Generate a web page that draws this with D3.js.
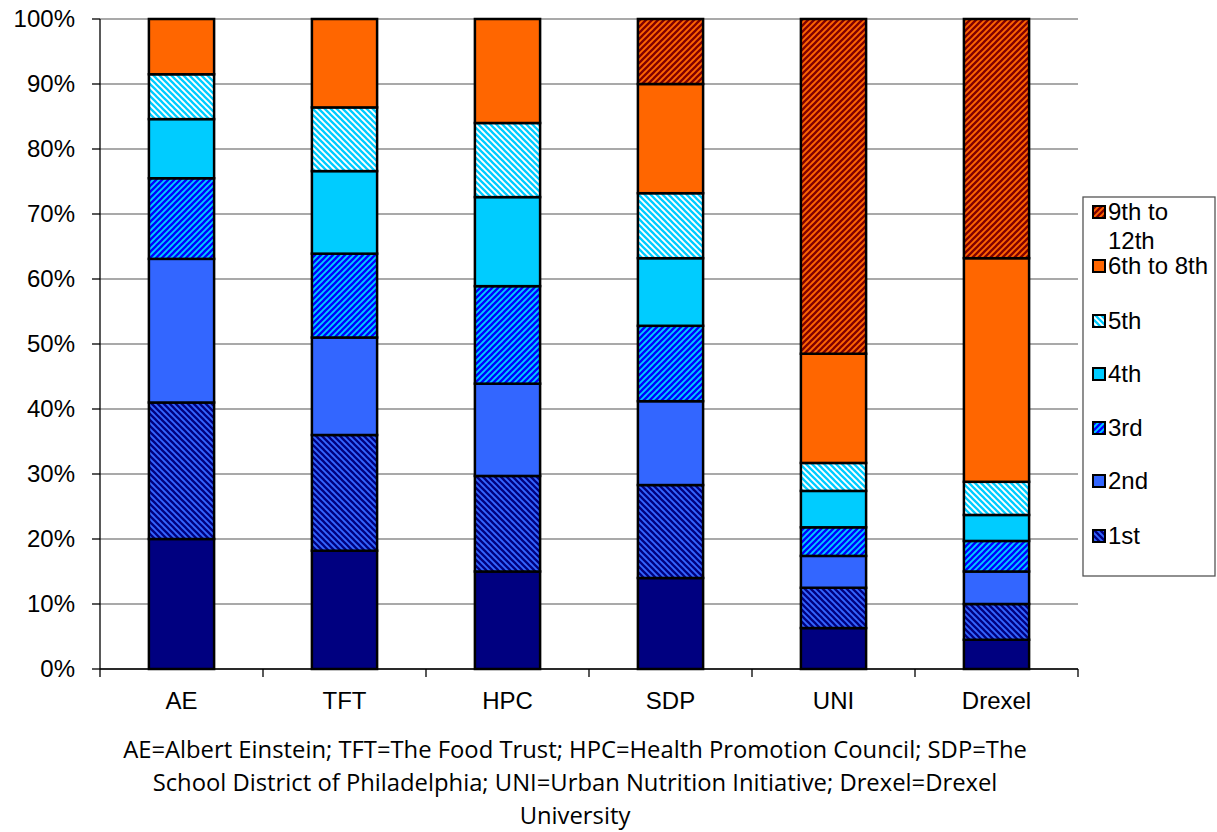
<!DOCTYPE html>
<html><head><meta charset="utf-8">
<script src="https://cdnjs.cloudflare.com/ajax/libs/d3/7.8.5/d3.min.js"></script>
<style>body{margin:0;background:#fff;} svg{display:block;}</style>
</head><body>
<svg id="chart" width="1217" height="832"></svg>
<script>
const categories = ["AE", "TFT", "HPC", "SDP", "UNI", "Drexel"];
const seriesNames = ["K", "1st", "2nd", "3rd", "4th", "5th", "6th to 8th", "9th to 12th"];
const K        = [20.0, 18.2, 15.0, 14.0, 6.3, 4.5];
const first    = [21.0, 17.8, 14.7, 14.3, 6.2, 5.5];
const second   = [22.1, 15.0, 14.2, 12.9, 4.9, 5.0];
const third    = [12.4, 12.9, 15.0, 11.6, 4.4, 4.7];
const fourth   = [9.1, 12.7, 13.7, 10.4, 5.6, 4.0];
const fifth    = [6.9, 9.8, 11.4, 10.0, 4.3, 5.1];
const sixTo8   = [8.5, 13.6, 16.0, 16.8, 16.8, 34.4];
const nineTo12 = [0, 0, 0, 10.0, 51.5, 36.8];
const yTicks = [0, 0.1, 0.2, 0.3, 0.4, 0.5, 0.6, 0.7, 0.8, 0.9, 1.0];
const legendNames = ["9th to 12th", "6th to 8th", "5th", "4th", "3rd", "2nd", "1st"];
const footnote = ["AE=Albert Einstein; TFT=The Food Trust; HPC=Health Promotion Council; SDP=The",
                  "School District of Philadelphia; UNI=Urban Nutrition Initiative; Drexel=Drexel",
                  "University"];

const seriesValues = [K, first, second, third, fourth, fifth, sixTo8, nineTo12];
const fills = {
  "K": "#000080", "1st": "url(#p1st)", "2nd": "#3366FF", "3rd": "url(#p3rd)",
  "4th": "#00CCFF", "5th": "url(#p5th)", "6th to 8th": "#FF6600", "9th to 12th": "url(#p912)"
};

const svg = d3.select("#chart");
const pLeft = 100, pRight = 1078, pTop = 19, pBottom = 669;
const axisFont = "'Liberation Sans', Arial, sans-serif";

// patterns
const defs = svg.append("defs");
function pattern(id, bg, fg, dir) {
  const s = 6;
  const p = defs.append("pattern").attr("id", id).attr("patternUnits", "userSpaceOnUse")
    .attr("width", s).attr("height", s);
  p.append("rect").attr("width", s).attr("height", s).attr("fill", bg);
  const d = dir === "down"
    ? `M-2,-2 L${s+2},${s+2} M-2,${s-2} L2,${s+2} M${s-2},-2 L${s+2},2`
    : `M-2,${s+2} L${s+2},-2 M-2,2 L2,-2 M${s-2},${s+2} L${s+2},${s-2}`;
  p.append("path").attr("d", d).attr("stroke", fg).attr("stroke-width", 2.3);
}
pattern("p1st", "#3366FF", "#000080", "down");
pattern("p3rd", "#00CCFF", "#0000FF", "up");
pattern("p5th", "#FFFFFF", "#00CCFF", "down");
pattern("p912", "#FF6600", "#800000", "up");

const x = d3.scaleBand().domain(categories).range([pLeft, pRight]).paddingInner(0.6).paddingOuter(0.3);
const y = d3.scaleLinear().domain([0, 1]).range([pBottom, pTop]);

// gridlines
svg.append("g").selectAll("line").data(yTicks).join("line")
  .attr("x1", pLeft).attr("x2", pRight)
  .attr("y1", d => y(d)).attr("y2", d => y(d))
  .attr("stroke", "#8c8c8c").attr("stroke-width", 1.3);

// stacked data
const table = categories.map((c, i) => {
  const o = {cat: c};
  seriesNames.forEach((s, j) => o[s] = seriesValues[j][i] / 100);
  return o;
});
const stack = d3.stack().keys(seriesNames)(table);

const g = svg.append("g");
stack.forEach(layer => {
  g.append("g").selectAll("rect").data(layer.filter(d => d[1] - d[0] > 0)).join("rect")
    .attr("x", d => x(d.data.cat))
    .attr("width", x.bandwidth())
    .attr("y", d => y(d[1]))
    .attr("height", d => y(d[0]) - y(d[1]))
    .attr("fill", fills[layer.key])
    .attr("stroke", "#000").attr("stroke-width", 2.5);
});

// y axis
const yAxis = svg.append("g");
yAxis.append("line").attr("x1", pLeft).attr("x2", pLeft).attr("y1", pTop).attr("y2", pBottom)
  .attr("stroke", "#000").attr("stroke-width", 1.3);
yAxis.selectAll("line.t").data(yTicks).join("line").attr("class", "t")
  .attr("x1", pLeft - 8).attr("x2", pLeft).attr("y1", d => y(d)).attr("y2", d => y(d))
  .attr("stroke", "#000").attr("stroke-width", 1.3);
yAxis.selectAll("text").data(yTicks).join("text")
  .attr("x", 75).attr("y", d => y(d)).attr("dy", "0.35em")
  .attr("text-anchor", "end")
  .style("font-family", axisFont).style("font-size", "24px")
  .text(d3.format(".0%"));

// x axis
const xAxis = svg.append("g");
xAxis.append("line").attr("x1", pLeft).attr("x2", pRight).attr("y1", pBottom).attr("y2", pBottom)
  .attr("stroke", "#000").attr("stroke-width", 1.3);
const bounds = d3.range(categories.length + 1).map(i => pLeft + x.step() * i);
xAxis.selectAll("line.t").data(bounds).join("line").attr("class", "t")
  .attr("x1", d => d).attr("x2", d => d).attr("y1", pBottom).attr("y2", pBottom + 8)
  .attr("stroke", "#000").attr("stroke-width", 1.3);
xAxis.selectAll("text").data(categories).join("text")
  .attr("x", d => x(d) + x.bandwidth() / 2).attr("y", 701).attr("dy", "0.35em")
  .attr("text-anchor", "middle")
  .style("font-family", axisFont).style("font-size", "24px")
  .text(d => d);

// legend
const lg = svg.append("g");
lg.append("rect").attr("x", 1083).attr("y", 197).attr("width", 132).attr("height", 379)
  .attr("fill", "#fff").attr("stroke", "#555").attr("stroke-width", 1.3);
const legendY = [212, 266, 321, 374, 428, 481, 536];
legendNames.forEach((n, i) => {
  lg.append("rect").attr("x", 1093).attr("y", legendY[i] - 6).attr("width", 12).attr("height", 12)
    .attr("fill", fills[n]).attr("stroke", "#000").attr("stroke-width", 2);
  const t = lg.append("text").attr("x", 1108).attr("y", legendY[i]).attr("dy", "0.35em")
    .style("font-family", axisFont).style("font-size", "24px");
  if (n === "9th to 12th") {
    t.append("tspan").attr("x", 1108).text("9th to");
    t.append("tspan").attr("x", 1108).attr("dy", 29).text("12th");
  } else t.text(n);
});

// footnote
svg.append("g").selectAll("text").data(footnote).join("text")
  .attr("x", 575).attr("y", (d, i) => 750 + i * 33).attr("dy", "0.35em")
  .attr("text-anchor", "middle")
  .style("font-family", "'Open Sans', sans-serif").style("font-size", "23.8px")
  .text(d => d);
</script>
</body></html>
